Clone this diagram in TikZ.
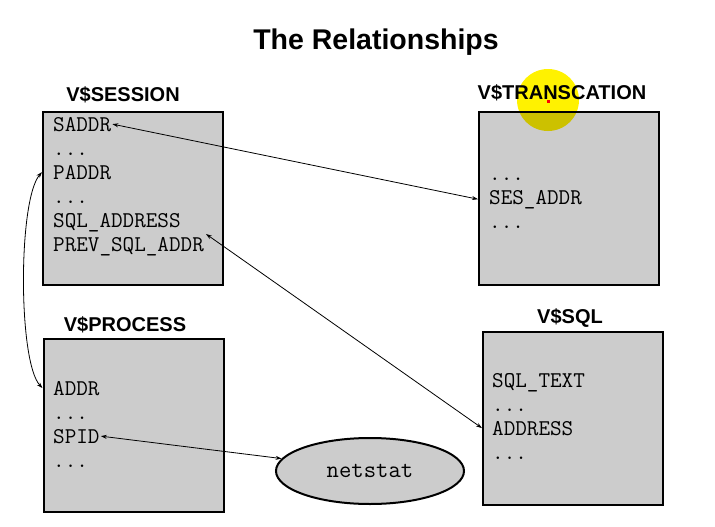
\documentclass[tikz,border=0pt]{standalone}
\usepackage{fontspec}
\setmainfont{Liberation Sans}
\usetikzlibrary{positioning, arrows.meta, shapes.geometric, calc}

\tikzset{
  tbl/.style={draw, line width=2pt, fill=black!20, minimum width=180pt, minimum height=173pt, inner sep=0pt},
  tbltitle/.style={font=\bfseries\fontsize{20}{22}\selectfont, inner sep=0pt},
  field/.style={anchor=base west, inner sep=1pt, font=\ttfamily\fontsize{22.5}{24}\selectfont},
  link/.style={line width=0.8pt, {Stealth[length=6pt,width=4pt]}-{Stealth[length=6pt,width=4pt]}}
}

\begin{document}
\begin{tikzpicture}[x=1pt, y=-1pt]
        \useasboundingbox (0,0) rectangle (715,527);

        % Title
        \node[font=\bfseries\fontsize{28.5}{30}\selectfont] (title) at (376,42) {The Relationships};

        % Tables
        \node[tbl] (session) at (133,198) {};
        \node[tbl] (trans) at (569,198.5) {};
        \node[tbl] (process) at (133.5,425) {};
        \node[tbl] (sql) at (573,418) {};
        \node[tbltitle] (sessiont) at (123,95) {V\$SESSION};
        \node[tbltitle] (transt) at (562,93) {V\$TRANSCATION};
        \node[tbltitle] (processt) at (125,325) {V\$PROCESS};
        \node[tbltitle] (sqlt) at (570,318) {V\$SQL};

        % Fields of V$SESSION
        \node[field] (saddr) at (52,131) {SADDR};
        \node[field] (sdots1) at (52,155) {...};
        \node[field] (paddr) at (52,179) {PADDR};
        \node[field] (sdots2) at (52,203) {...};
        \node[field] (sqladdr) at (52,227) {SQL\_ADDRESS};
        \node[field] (prevsql) at (52,251) {PREV\_SQL\_ADDR};

        % Fields of V$TRANSCATION
        \node[field] (tdots1) at (488,180) {...};
        \node[field] (sesaddr) at (488,204) {SES\_ADDR};
        \node[field] (tdots2) at (488,228) {...};

        % Fields of V$PROCESS
        \node[field] (addr) at (52,395) {ADDR};
        \node[field] (pdots1) at (52,419) {...};
        \node[field] (spid) at (52,443) {SPID};
        \node[field] (pdots2) at (52,467) {...};

        % Fields of V$SQL
        \node[field] (sqltext) at (491,387) {SQL\_TEXT};
        \node[field] (qdots1) at (491,411) {...};
        \node[field] (address) at (491,435) {ADDRESS};
        \node[field] (qdots2) at (491,459) {...};

        % netstat
        \node[ellipse, draw, line width=2pt, fill=black!20, minimum width=188pt, minimum height=66pt,
              font=\ttfamily\fontsize{24}{26}\selectfont] (netstat) at (370,471) {netstat};

        % Links
        \coordinate (sqltip) at (206,234);
        \draw[link] (saddr.east) -- (trans.west |- sesaddr.west);
        \draw[link] (sqltip) -- (sql.west |- address.west);
        \draw[link] (session.west |- paddr.west) .. controls (18,200) and (18,362) .. (process.west |- addr.west);
        \draw[link] (spid.east) -- (netstat.172);

        % Highlight
        \fill[yellow, blend mode=multiply] (548,100) circle (31pt);
        \fill[red] (546.5,99.5) rectangle (549.5,102.5);
    \end{tikzpicture}
\end{document}
